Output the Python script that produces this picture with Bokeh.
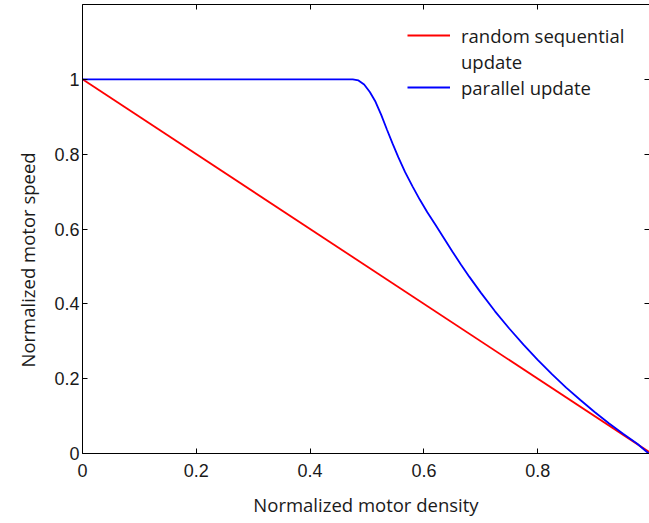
from bokeh.plotting import figure
from bokeh.models import (LinearAxis, FixedTicker, Legend, LegendItem, Title,
                          Range1d, ColumnDataSource)
from bokeh.embed import file_html
from bokeh.resources import INLINE

# ---- data ----
random_density = [0.0, 1.0]
random_speed = [1.0, 0.0]

parallel_density = [0.0, 0.475, 0.485, 0.495, 0.505, 0.515, 0.525, 0.535, 0.545,
                    0.555, 0.567, 0.580, 0.593, 0.606, 0.620, 0.635, 0.650, 0.665,
                    0.680, 0.700, 0.725, 0.750, 0.775, 0.800, 0.825, 0.850, 0.875,
                    0.900, 0.925, 0.950, 0.975, 0.995]
parallel_speed = [1.0, 1.0, 0.997, 0.986, 0.966, 0.940, 0.905, 0.866, 0.828,
                  0.792, 0.752, 0.714, 0.678, 0.645, 0.612, 0.576, 0.540, 0.505,
                  0.472, 0.430, 0.380, 0.334, 0.291, 0.250, 0.212, 0.176, 0.143,
                  0.111, 0.081, 0.053, 0.026, 0.0]

x_ticks = [0.0, 0.2, 0.4, 0.6, 0.8, 1.0]
x_tick_labels = ["0", "0.2", "0.4", "0.6", "0.8", "1"]
y_ticks = [0.0, 0.2, 0.4, 0.6, 0.8, 1.0]
y_tick_labels = ["0", "0.2", "0.4", "0.6", "0.8", "1"]

legend_labels = ["random sequential", "update", "parallel update"]
x_title = "Normalized motor density"
y_title = "Normalized motor speed"

TEXT = "#1a1a1a"
TICK_FONT = "Liberation Sans"
LABEL_FONT = "Open Sans"

p = figure(width=649, height=523,
           x_range=Range1d(0, 0.9965), y_range=Range1d(0, 1.2),
           output_backend="svg", toolbar_location=None,
           min_border_left=81, min_border_right=0,
           min_border_top=4, min_border_bottom=70)
p.grid.visible = False
p.outline_line_color = None
p.background_fill_color = "white"
p.border_fill_color = "white"


def style_axis(ax, ticks, labels, show_labels=True):
    ax.ticker = FixedTicker(ticks=ticks)
    ax.major_tick_in = 5
    ax.major_tick_out = 0
    ax.minor_tick_in = 0
    ax.minor_tick_out = 0
    ax.major_tick_line_color = "black"
    ax.major_tick_line_width = 1
    ax.axis_line_color = "black"
    ax.axis_line_width = 1
    if show_labels:
        ax.major_label_overrides = {t: l for t, l in zip(ticks, labels)}
        ax.major_label_text_font = TICK_FONT
        ax.major_label_text_font_size = "18px"
        ax.major_label_text_color = TEXT
    else:
        ax.major_label_overrides = {t: "" for t in ticks}
        ax.major_label_text_color = None
        ax.major_label_text_font_size = "1px"
        ax.major_label_standoff = 0


xa = p.xaxis[0]
style_axis(xa, x_ticks, x_tick_labels)
xa.major_label_standoff = 10
xa.axis_label = x_title
xa.axis_label_standoff = 12
xa.axis_label_text_font = LABEL_FONT
xa.axis_label_text_font_size = "18.5px"
xa.axis_label_text_font_style = "normal"
xa.axis_label_text_color = TEXT

ya = p.yaxis[0]
style_axis(ya, y_ticks, y_tick_labels)
ya.major_label_standoff = 3

top = LinearAxis()
style_axis(top, x_ticks, x_tick_labels, show_labels=False)
p.add_layout(top, "above")

right = LinearAxis()
style_axis(right, y_ticks, y_tick_labels, show_labels=False)
right.axis_line_color = None
p.add_layout(right, "right")

src_r = ColumnDataSource(dict(density=random_density, speed=random_speed))
src_p = ColumnDataSource(dict(density=parallel_density, speed=parallel_speed))
r_red = p.line(x="density", y="speed", source=src_r, line_color="#ff0000", line_width=1.8)
r_blue = p.line(x="density", y="speed", source=src_p, line_color="#0000ff", line_width=1.8)
r_dummy = p.line(x=[], y=[], line_alpha=0)

legend = Legend(items=[LegendItem(label=legend_labels[0], renderers=[r_red]),
                       LegendItem(label=legend_labels[1], renderers=[r_dummy]),
                       LegendItem(label=legend_labels[2], renderers=[r_blue])],
                location=(325, 353), padding=0, spacing=0, margin=0,
                label_height=26, glyph_height=26, glyph_width=43,
                label_standoff=11, border_line_color=None,
                background_fill_alpha=0,
                label_text_font=LABEL_FONT, label_text_font_size="18.5px",
                label_text_color=TEXT)
p.add_layout(legend)

p.add_layout(Title(text=y_title, align="left", offset=86, standoff=24,
                   vertical_align="bottom",
                   text_font=LABEL_FONT, text_font_size="18.5px",
                   text_font_style="normal", text_color=TEXT), "left")

open("out.html", "w").write(file_html(p, INLINE))
